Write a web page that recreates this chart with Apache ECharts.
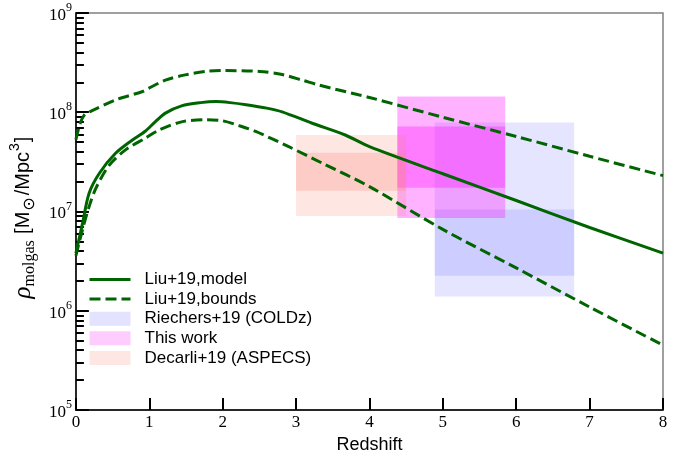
<!DOCTYPE html>
<html>
<head>
<meta charset="utf-8">
<script src="https://cdn.jsdelivr.net/npm/echarts@6/dist/echarts.min.js"></script>
<style>
  html, body { margin: 0; padding: 0; background: #fff; }
  #chart { width: 694px; height: 464px; }
</style>
</head>
<body>
<div id="chart"></div>
<script>
// Molecular gas mass density vs redshift
var xTicks = [0, 1, 2, 3, 4, 5, 6, 7, 8];
var yTickExponents = [5, 6, 7, 8, 9];

// Liu+19 model curve: [redshift, density]
var liuModel = [
  [0.00, 3.8e6], [0.09, 7.6e6], [0.18, 1.53e7], [0.32, 2.43e7], [0.54, 3.86e7],
  [0.77, 5.26e7], [0.94, 6.4e7], [1.08, 8.0e7], [1.22, 9.8e7], [1.44, 1.16e8],
  [1.70, 1.25e8], [1.91, 1.28e8], [2.10, 1.25e8], [2.32, 1.19e8], [2.60, 1.10e8],
  [2.81, 1.01e8], [3.22, 7.75e7], [3.67, 5.9e7], [4.00, 4.5e7], [5.00, 2.4e7],
  [6.00, 1.29e7], [7.00, 6.9e6], [8.00, 3.8e6]
];
// Liu+19 upper bound
var liuUpper = [
  [0.00, 5.3e7], [0.06, 7.8e7], [0.12, 9.5e7], [0.20, 1.02e8], [0.54, 1.33e8],
  [0.90, 1.61e8], [0.99, 1.74e8], [1.22, 2.11e8], [1.49, 2.38e8], [1.77, 2.58e8],
  [2.00, 2.63e8], [2.50, 2.58e8], [2.81, 2.40e8], [3.09, 2.10e8], [3.31, 1.88e8],
  [3.85, 1.50e8], [4.00, 1.41e8], [5.00, 8.9e7], [6.00, 5.7e7], [7.00, 3.6e7],
  [8.00, 2.3e7]
];
// Liu+19 lower bound
var liuLower = [
  [0.00, 3.6e6], [0.10, 7.0e6], [0.18, 1.12e7], [0.27, 1.7e7], [0.45, 2.9e7],
  [0.68, 4.2e7], [0.95, 5.5e7], [1.13, 6.6e7], [1.44, 8.0e7], [1.78, 8.4e7],
  [2.00, 8.2e7], [2.23, 7.3e7], [2.45, 6.4e7], [2.90, 4.5e7], [3.36, 3.06e7],
  [4.00, 1.78e7], [5.00, 6.6e6], [6.00, 2.7e6], [7.00, 1.09e6], [8.00, 4.5e5]
];

// Survey constraints: redshift range and density ranges (outer and inner)
var riechersZ = [4.89, 6.79];
var riechersOuter = [1.39e6, 7.9e7];
var riechersInner = [2.25e6, 1.05e7];

var thisWorkZ = [4.38, 5.85];
var thisWorkOuter = [8.6e6, 1.44e8];
var thisWorkInner = [1.74e7, 7.2e7];

var decarliZ = [3.0, 4.5];
var decarliOuter = [9.0e6, 5.9e7];
var decarliInner = [1.62e7, 3.9e7];

var GREEN = '#006400';
var SERIF = '"Liberation Serif", "DejaVu Serif", serif';
var SANS = '"Liberation Sans", "DejaVu Sans", sans-serif';

function boxRows(z, outer, inner) {
  return [
    [z[0], z[1], outer[0], outer[1]],
    [z[0], z[1], inner[0], inner[1]]
  ];
}

function boxRender(colors) {
  return function (params, api) {
    var p0 = api.coord([api.value(0), api.value(3)]);
    var p1 = api.coord([api.value(1), api.value(2)]);
    return {
      type: 'rect',
      shape: { x: p0[0], y: p0[1], width: p1[0] - p0[0], height: p1[1] - p0[1] },
      style: { fill: colors[params.dataIndex] },
      silent: true
    };
  };
}

function boxSeries(name, z, outer, inner, colors, legendColor) {
  return {
    name: name,
    type: 'custom',
    xAxisIndex: 0,
    yAxisIndex: 0,
    z: 1,
    clip: true,
    itemStyle: { color: legendColor },
    encode: { x: [0, 1], y: [2, 3] },
    renderItem: boxRender(colors),
    data: boxRows(z, outer, inner)
  };
}

var minorTicks = [];
for (var e = 5; e < 9; e++) {
  for (var k = 2; k <= 9; k++) minorTicks.push(k * Math.pow(10, e));
}

var chart = echarts.init(document.getElementById('chart'), null, { renderer: 'canvas' });

var option = {
  animation: false,
  backgroundColor: '#fff',
  grid: {
    left: 72, right: 31, top: 13, bottom: 54,
    show: true, borderColor: '#808080', borderWidth: 1.5, backgroundColor: 'transparent'
  },
  xAxis: {
    type: 'value',
    min: 0, max: 8, interval: 1,
    name: 'Redshift',
    nameLocation: 'middle',
    nameGap: 22,
    nameTextStyle: { fontFamily: SANS, fontSize: 18, color: '#000' },
    axisLine: { lineStyle: { color: '#000', width: 1.5 } },
    axisTick: { inside: true, length: 12, lineStyle: { color: '#000', width: 2 } },
    axisLabel: {
      margin: 4, fontFamily: SERIF, fontSize: 17, color: '#000',
      formatter: function (v) { return String(v); }
    },
    splitLine: { show: false }
  },
  yAxis: [
    {
      type: 'log', logBase: 10,
      min: 1e5, max: 1e9, interval: 1,
      name: '{r|ρ}{rs|molgas} {t|[M}{ts|⊙}{t|/Mpc}{tp|3}{te|]}',
      nameLocation: 'middle',
      nameRotate: 90,
      nameGap: 27,
      nameTextStyle: {
        color: '#000',
        rich: {
          r: { fontFamily: SERIF, fontStyle: 'italic', fontSize: 25, lineHeight: 30, verticalAlign: 'middle' },
          rs: { fontFamily: SERIF, fontSize: 16, lineHeight: 30, verticalAlign: 'bottom', padding: [0, 3, 0, 0] },
          t: { fontFamily: SANS, fontSize: 20, lineHeight: 30, verticalAlign: 'middle' },
          te: { fontFamily: SANS, fontSize: 20, lineHeight: 30, verticalAlign: 'middle', padding: [0, 12, 0, 0] },
          ts: { fontFamily: SANS, fontSize: 16, lineHeight: 30, verticalAlign: 'bottom', padding: [0, 2, 0, 1] },
          tp: { fontFamily: SANS, fontSize: 14, lineHeight: 30, verticalAlign: 'top', padding: [0, 1, 0, 1] }
        }
      },
      axisLine: { lineStyle: { color: '#000', width: 1.5 } },
      axisTick: { inside: true, length: 13, lineStyle: { color: '#000', width: 2 } },
      axisLabel: {
        margin: 4,
        formatter: function (v) {
          var n = Math.round(Math.log10(v));
          return '{b|10}{s|' + n + '}';
        },
        rich: {
          b: { fontFamily: SERIF, fontSize: 17, color: '#000', lineHeight: 22, verticalAlign: 'bottom' },
          s: { fontFamily: SERIF, fontSize: 12, color: '#000', lineHeight: 22, verticalAlign: 'top' }
        }
      },
      splitLine: { show: false }
    },
    {
      type: 'log', logBase: 10,
      min: 1e5, max: 1e9,
      position: 'left',
      axisLine: { show: false },
      axisTick: { inside: true, length: 8, lineStyle: { color: '#000', width: 2 }, customValues: minorTicks },
      axisLabel: { show: false },
      splitLine: { show: false }
    }
  ],
  legend: {
    orient: 'vertical',
    left: 88, top: 271,
    padding: 0,
    itemWidth: 41, itemHeight: 14,
    itemGap: 2.6,
    textStyle: { fontFamily: SANS, fontSize: 17, color: '#000', lineHeight: 14, padding: [0, 0, 0, 9] },
    data: [
      { name: 'Liu+19,model', itemStyle: { opacity: 0 }, lineStyle: { width: 3 } },
      { name: 'Liu+19,bounds', itemStyle: { opacity: 0 }, lineStyle: { width: 3 } },
      { name: 'Riechers+19 (COLDz)', icon: 'rect', itemStyle: { color: 'rgba(0,0,255,0.11)' } },
      { name: 'This work', icon: 'rect', itemStyle: { color: 'rgba(255,0,255,0.2)' } },
      { name: 'Decarli+19 (ASPECS)', icon: 'rect', itemStyle: { color: 'rgba(250,128,114,0.2)' } }
    ]
  },
  series: [
    boxSeries('Riechers+19 (COLDz)', riechersZ, riechersOuter, riechersInner,
      ['rgba(0,0,255,0.1)', 'rgba(0,0,255,0.1)'], 'rgba(0,0,255,0.11)'),
    boxSeries('This work', thisWorkZ, thisWorkOuter, thisWorkInner,
      ['rgba(255,0,255,0.3)', 'rgba(255,0,255,0.3)'], 'rgba(255,0,255,0.2)'),
    boxSeries('Decarli+19 (ASPECS)', decarliZ, decarliOuter, decarliInner,
      ['rgba(250,128,114,0.2)', 'rgba(250,128,114,0.25)'], 'rgba(250,128,114,0.2)'),
    {
      name: 'Liu+19,model', type: 'line', z: 3,
      data: liuModel, smooth: 0.3, symbol: 'none', showSymbol: false,
      lineStyle: { color: GREEN, width: 3 }, itemStyle: { color: GREEN }
    },
    {
      name: 'Liu+19,bounds', type: 'line', z: 3,
      data: liuUpper, smooth: 0.3, symbol: 'none', showSymbol: false,
      lineStyle: { color: GREEN, width: 3, type: [11, 5] }, itemStyle: { color: GREEN }
    },
    {
      name: 'Liu+19,bounds', type: 'line', z: 3,
      data: liuLower, smooth: 0.3, symbol: 'none', showSymbol: false,
      lineStyle: { color: GREEN, width: 3, type: [11, 5] }, itemStyle: { color: GREEN }
    }
  ]
};

chart.setOption(option);
</script>
</body>
</html>
